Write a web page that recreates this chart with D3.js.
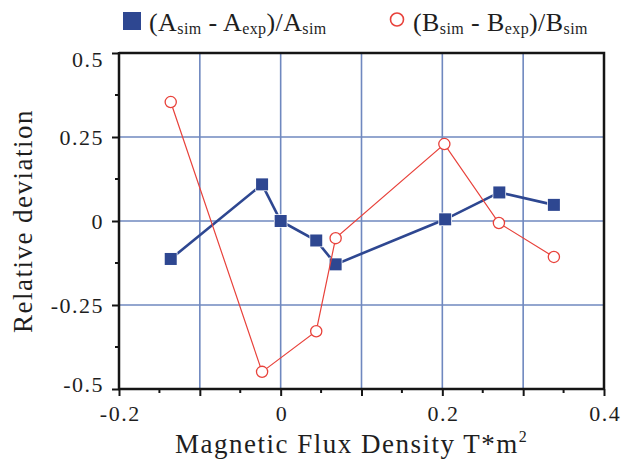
<!DOCTYPE html>
<html>
<head>
<meta charset="utf-8">
<script src="https://cdn.jsdelivr.net/npm/d3@7"></script>
<style>
  html, body { margin: 0; padding: 0; background: #fff; }
  svg { display: block; }
  svg text { font-family: "Liberation Serif", "Times New Roman", serif; }
</style>
</head>
<body>
<svg id="chart" width="622" height="466"></svg>
<script>
// Magnetic flux density (T*m^2) for each measurement
const fluxA = [-0.136, -0.023, 0.0, 0.044, 0.068, 0.2035, 0.2705, 0.338];
const devA  = [-0.113, 0.109, 0.0, -0.058, -0.129, 0.005, 0.085, 0.048];
const fluxB = [-0.136, -0.023, 0.044, 0.068, 0.2025, 0.270, 0.338];
const devB  = [0.354, -0.449, -0.328, -0.051, 0.229, -0.006, -0.107];

const xLabelTicks = [-0.2, 0, 0.2, 0.4];
const xLabelText  = ["-0.2", "0", "0.2", "0.4"];
const yLabelTicks = [0.5, 0.25, 0, -0.25, -0.5];
const yLabelText  = ["0.5", "0.25", "0", "-0.25", "-0.5"];

const COL_A = "#2e4791";
const COL_B = "#e8423b";
const GRID = "#6f88bf";
const AXIS = "#151515";
const INK = "#1e1e1e";

const svg = d3.select("#chart");
const L = 119, R = 604, T = 53, B = 389;

const x = d3.scaleLinear().domain([-0.2, 0.4]).range([L, R]);
const y = d3.scaleLinear().domain([-0.5, 0.5]).range([B, T]);

// grid lines
const g = svg.append("g");
g.selectAll("line.vx").data([-0.1, 0, 0.1, 0.2, 0.3]).join("line")
  .attr("x1", d => x(d)).attr("x2", d => x(d)).attr("y1", T).attr("y2", B)
  .attr("stroke", GRID).attr("stroke-width", 1.6);
g.selectAll("line.hy").data([0.25, 0, -0.25]).join("line")
  .attr("y1", d => y(d)).attr("y2", d => y(d)).attr("x1", L).attr("x2", R)
  .attr("stroke", GRID).attr("stroke-width", 1.6);

// frame: top and right edges
svg.append("path")
  .attr("d", `M${L},${T}H${R}V${B}`)
  .attr("fill", "none").attr("stroke", AXIS).attr("stroke-width", 2.5);

// minor ticks
const xMinor = [-0.15, -0.05, 0.05, 0.15, 0.25, 0.35];
const yMinor = [0.375, 0.125, -0.125, -0.375];
svg.append("g").selectAll("line").data(xMinor).join("line")
  .attr("x1", d => x(d)).attr("x2", d => x(d)).attr("y1", B).attr("y2", B + 4)
  .attr("stroke", AXIS).attr("stroke-width", 2);
svg.append("g").selectAll("line").data(yMinor).join("line")
  .attr("y1", d => y(d)).attr("y2", d => y(d)).attr("x1", L).attr("x2", L - 4)
  .attr("stroke", AXIS).attr("stroke-width", 2);

// bottom axis: major ticks every 0.1, labels every 0.2
const xAxis = d3.axisBottom(x)
  .tickValues([-0.2, -0.1, 0, 0.1, 0.2, 0.3, 0.4])
  .tickSize(7).tickSizeOuter(0).tickPadding(9)
  .tickFormat(d => {
    const i = xLabelTicks.findIndex(v => Math.abs(v - d) < 1e-9);
    return i >= 0 ? xLabelText[i] : "";
  });
const gx = svg.append("g").attr("transform", `translate(0,${B})`).call(xAxis)
  .attr("font-family", null);
gx.select(".domain").attr("stroke", AXIS).attr("stroke-width", 2.5)
  .attr("d", `M${L - 1},0H${R + 1}`);
gx.selectAll(".tick line").attr("stroke", AXIS).attr("stroke-width", 2);
gx.selectAll(".tick text")
  .attr("font-size", 22).attr("fill", INK).attr("letter-spacing", 1.5)
  .attr("dx", 0.75);

// left axis
const yAxis = d3.axisLeft(y)
  .tickValues(yLabelTicks)
  .tickSize(7).tickSizeOuter(0).tickPadding(8)
  .tickFormat((d, i) => yLabelText[i]);
const gy = svg.append("g").attr("transform", `translate(${L},0)`).call(yAxis)
  .attr("font-family", null);
gy.select(".domain").attr("stroke", AXIS).attr("stroke-width", 2.5)
  .attr("d", `M0,${T - 1}V${B + 1}`);
gy.selectAll(".tick line").attr("stroke", AXIS).attr("stroke-width", 2);
gy.selectAll(".tick text")
  .attr("font-size", 22).attr("fill", INK).attr("letter-spacing", 1.5)
  .attr("dy", d => d === 0.5 ? "0.6em" : d === -0.5 ? "0.1em" : "0.32em");

// series A: filled squares joined by a thick line
const ptsA = fluxA.map((v, i) => [v, devA[i]]);
const ptsB = fluxB.map((v, i) => [v, devB[i]]);
const line = d3.line().x(d => x(d[0])).y(d => y(d[1]));

svg.append("path").datum(ptsA).attr("d", line)
  .attr("fill", "none").attr("stroke", COL_A).attr("stroke-width", 2.6);
svg.append("g").selectAll("rect").data(ptsA).join("rect")
  .attr("x", d => x(d[0]) - 6).attr("y", d => y(d[1]) - 6)
  .attr("width", 12).attr("height", 12)
  .attr("fill", COL_A).attr("stroke", "#fff").attr("stroke-width", 1.5)
  .attr("paint-order", "stroke");

// series B: open circles joined by a thin line
svg.append("path").datum(ptsB).attr("d", line)
  .attr("fill", "none").attr("stroke", COL_B).attr("stroke-width", 1.2);
svg.append("g").selectAll("circle").data(ptsB).join("circle")
  .attr("cx", d => x(d[0])).attr("cy", d => y(d[1])).attr("r", 5.6)
  .attr("fill", "#fff").attr("stroke", COL_B).attr("stroke-width", 1.3);

// axis titles
svg.append("text")
  .attr("transform", `translate(32,${(T + B) / 2}) rotate(-90)`)
  .attr("text-anchor", "middle").attr("font-size", 27).attr("fill", INK)
  .attr("letter-spacing", 1.5)
  .text("Relative deviation");

const xt = svg.append("text").attr("x", 175).attr("y", 453)
  .attr("font-size", 27).attr("fill", INK).attr("letter-spacing", 1.5);
xt.append("tspan").text("Magnetic Flux Density T*m");
xt.append("tspan").attr("font-size", 16).attr("dy", -11).text("2");

// legend
function legendText(x0, letter) {
  const t = svg.append("text").attr("x", x0).attr("y", 31)
    .attr("font-size", 26).attr("fill", INK).attr("letter-spacing", 0.4);
  t.append("tspan").text("(" + letter);
  t.append("tspan").attr("font-size", 16).attr("dy", 3).text("sim");
  t.append("tspan").attr("dy", -3).text(" - " + letter);
  t.append("tspan").attr("font-size", 16).attr("dy", 3).text("exp");
  t.append("tspan").attr("dy", -3).text(")/" + letter);
  t.append("tspan").attr("font-size", 16).attr("dy", 3).text("sim");
}
svg.append("rect").attr("x", 123).attr("y", 12).attr("width", 18).attr("height", 18)
  .attr("fill", COL_A);
legendText(149, "A");
svg.append("circle").attr("cx", 397).attr("cy", 19.5).attr("r", 6.5)
  .attr("fill", "#fff").attr("stroke", COL_B).attr("stroke-width", 1.6);
legendText(413, "B");
</script>
</body>
</html>
